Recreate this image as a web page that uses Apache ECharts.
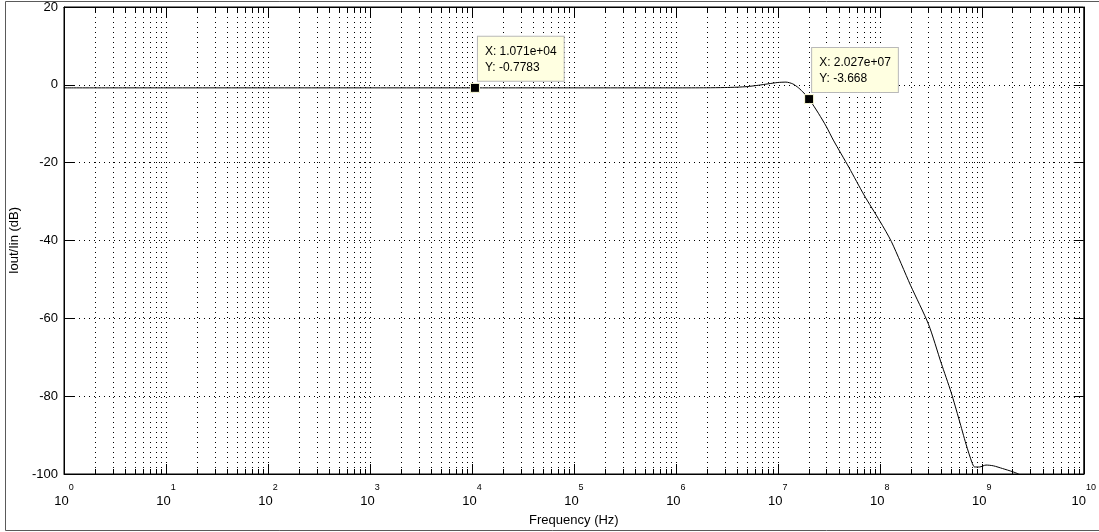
<!DOCTYPE html>
<html><head><meta charset="utf-8">
<script src="https://cdn.jsdelivr.net/npm/echarts@6/dist/echarts.min.js"></script>
<style>html,body{margin:0;padding:0;background:#fff}#c{width:1099px;height:532px}</style>
</head><body><div id="c"></div>
<script>
// ---- data ----
const freqHz = [1, 10, 100, 1000, 10000, 100000, 1000000, 2000000, 3000000, 4000000, 5000000, 6500000, 8000000,
  10000000, 12000000, 14000000, 16000000, 18000000, 20270000, 25000000, 30000000, 35000000, 50000000,
  70000000, 100000000, 130000000, 200000000, 300000000, 400000000, 500000000, 600000000, 700000000,
  800000000, 850000000, 950000000, 1100000000, 1300000000, 1600000000, 2000000000, 2300000000];
const gainDb = [-0.78, -0.78, -0.78, -0.78, -0.78, -0.78, -0.78, -0.76, -0.7, -0.6, -0.45, -0.1, 0.25,
  0.6, 0.7, 0.25, -0.8, -2.1, -3.668, -7.3, -10.8, -14.2, -21.3,
  -28.3, -35, -40.3, -51.5, -61.5, -71.5, -79, -86.1, -92.3,
  -97, -98.2, -98.2, -97.7, -97.9, -98.6, -99.4, -100];
const tipFreq = [10710, 20270000];
const tipDb = [-0.7783, -3.668];
const tipText = [['X: 1.071e+04', 'Y: -0.7783'], ['X: 2.027e+07', 'Y: -3.668']];
const decades = [1, 10, 100, 1000, 10000, 100000, 1000000, 10000000, 100000000, 1000000000];
const minorMult = [2, 3, 4, 5, 6, 7, 8, 9];
const yMin = -100, yMax = 20, yStep = 20;
const xMin = 1, xMax = 10000000000;

const minorFreq = [];
decades.forEach(d => minorMult.forEach(m => minorFreq.push([d * m])));

const FONT = 'Liberation Sans, Arial, Helvetica, sans-serif';
const dotted = { color: '#000', width: 1, type: [1, 4] };

const chart = echarts.init(document.getElementById('c'), null, { renderer: 'canvas' });
const xCommon = {
  type: 'log', logBase: 10, min: xMin, max: xMax, interval: 1, splitNumber: 10
};
const option = {
  animation: false,
  backgroundColor: '#fff',
  textStyle: { fontFamily: FONT },
  grid: { left: 64, right: 14, top: 7, bottom: 58, show: true, borderColor: '#000', borderWidth: 1, backgroundColor: '#fff' },
  graphic: [{
    type: 'polyline', silent: true, z: 100,
    shape: { points: [[1200, 1.5], [5.5, 1.5], [5.5, 530.5], [1200, 530.5]] },
    style: { stroke: '#5a5a5a', lineWidth: 1, fill: null }
  }],
  xAxis: [Object.assign({}, xCommon, {
    position: 'bottom',
    name: 'Frequency (Hz)', nameLocation: 'middle', nameGap: 40,
    nameTextStyle: { fontSize: 13, color: '#000', fontFamily: FONT },
    axisLine: { show: true, onZero: false, lineStyle: { color: '#000', width: 1 } },
    axisTick: { show: true, inside: true, length: 10, lineStyle: { color: '#000' } },
    splitLine: { show: true, lineStyle: dotted },
    axisLabel: {
      margin: 9, color: '#000', showMinLabel: true, showMaxLabel: true, hideOverlap: false,
      formatter: v => '{b|10}{s|' + Math.round(Math.log10(v)) + '}{sp|\u200b}',
      rich: {
        b: { fontSize: 13, lineHeight: 14, verticalAlign: 'bottom', fontFamily: FONT, color: '#000' },
        s: { fontSize: 9, lineHeight: 10, verticalAlign: 'top', fontFamily: FONT, color: '#000' },
        sp: { fontSize: 1, lineHeight: 25 }
      }
    }
  }), Object.assign({}, xCommon, {
    position: 'top',
    axisLine: { show: true, onZero: false, lineStyle: { color: '#000', width: 1 } },
    axisTick: { show: true, inside: true, length: 10, lineStyle: { color: '#000' } },
    splitLine: { show: false },
    axisLabel: { show: false }
  })],
  yAxis: [{
    type: 'value', min: yMin, max: yMax, interval: yStep, position: 'left',
    name: 'Iout/Iin (dB)', nameLocation: 'middle', nameGap: 40,
    nameTextStyle: { fontSize: 13, color: '#000', fontFamily: FONT },
    axisLine: { show: true, onZero: false, lineStyle: { color: '#000', width: 1 } },
    axisTick: { show: true, inside: true, length: 10, lineStyle: { color: '#000' } },
    splitLine: { show: true, lineStyle: dotted },
    axisLabel: { margin: 6, fontSize: 13, color: '#000', fontFamily: FONT }
  }, {
    type: 'value', min: yMin, max: yMax, interval: yStep, position: 'right',
    axisLine: { show: true, onZero: false, lineStyle: { color: '#000', width: 1 } },
    axisTick: { show: true, inside: true, length: 10, lineStyle: { color: '#000' } },
    splitLine: { show: false },
    axisLabel: { show: false }
  }],
  series: [{
    type: 'custom', xAxisIndex: 0, yAxisIndex: 0, silent: true, z: 1,
    data: minorFreq,
    renderItem: function (params, api) {
      const f = api.value(0);
      const top = api.coord([f, yMax]);
      const bot = api.coord([f, yMin]);
      const x = Math.round(top[0]) + 0.5;
      return {
        type: 'group', children: [
          { type: 'line', shape: { x1: x, y1: top[1], x2: x, y2: bot[1] }, style: { stroke: '#000', lineWidth: 1, lineDash: [1, 4] } },
          { type: 'line', shape: { x1: x, y1: bot[1], x2: x, y2: bot[1] - 5 }, style: { stroke: '#000', lineWidth: 1 } },
          { type: 'line', shape: { x1: x, y1: top[1], x2: x, y2: top[1] + 5 }, style: { stroke: '#000', lineWidth: 1 } }
        ]
      };
    }
  }, {
    type: 'line', xAxisIndex: 0, yAxisIndex: 0, z: 5,
    data: freqHz.map((f, i) => [f, gainDb[i]]),
    showSymbol: false, smooth: 0.25, clip: true,
    lineStyle: { color: '#000', width: 1 }
  }, {
    type: 'scatter', xAxisIndex: 0, yAxisIndex: 0, z: 10,
    data: tipFreq.map((f, i) => [f, tipDb[i]]),
    symbol: 'rect', symbolSize: 9,
    itemStyle: { color: '#000', borderColor: '#ffffd8', borderWidth: 1, opacity: 1 },
    label: {
      show: true, position: [8, -46], align: 'left', verticalAlign: 'top',
      formatter: p => tipText[p.dataIndex].join('\n'),
      backgroundColor: '#ffffe1', borderColor: '#b9b9b9', borderWidth: 1,
      padding: [7, 7, 5, 7], lineHeight: 16, fontSize: 12, color: '#000', fontFamily: FONT
    }
  }]
};
chart.setOption(option);
</script>
</body></html>
